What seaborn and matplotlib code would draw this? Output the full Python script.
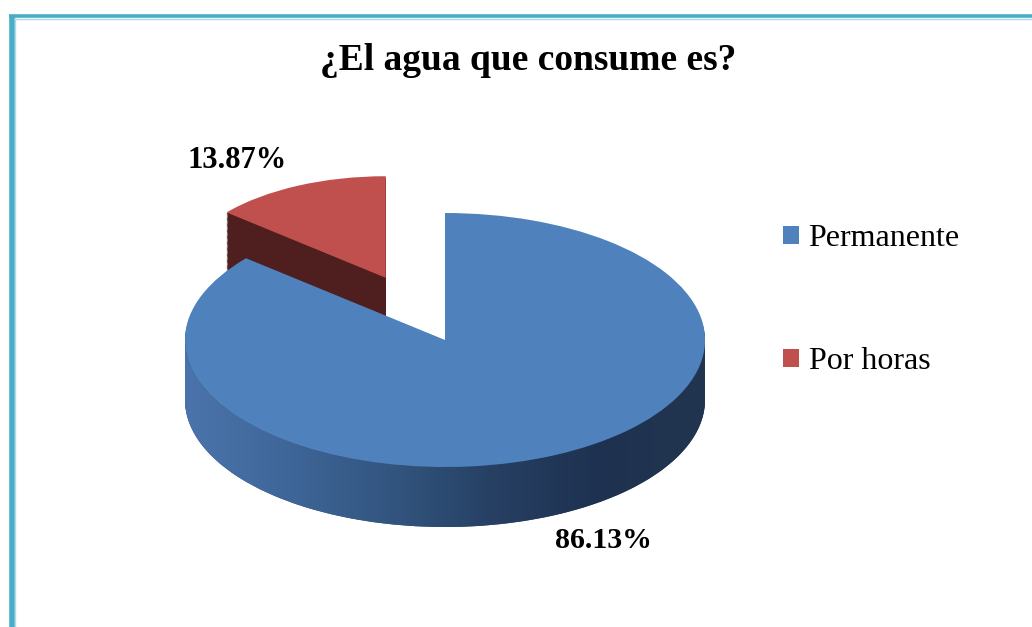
import numpy as np
import matplotlib
matplotlib.use("Agg")
import matplotlib.pyplot as plt
import seaborn as sns
from matplotlib.patches import Patch, PathPatch
from matplotlib.path import Path
from matplotlib.colors import LinearSegmentedColormap
from matplotlib.lines import Line2D

# ---- data ----
title = "¿El agua que consume es?"
categories = ["Permanente", "Por horas"]
values = [86.13, 13.87]
top_colors = ["#4F81BD", "#C0504D"]
side_colors = ["#2E4A72", "#4F1E1E"]

sns.set_theme(style="white")
plt.rcParams["font.family"] = ["Liberation Serif", "DejaVu Serif"]
plt.rcParams["text.color"] = "black"

W, H = 1032, 627
fig = plt.figure(figsize=(W / 100, H / 100), dpi=100)
fig.patch.set_facecolor("white")
ax = fig.add_axes([0, 0, 1, 1])

# pixel geometry of the projected pie
cx, cy, rx, ry = 445, 340, 260, 127
depth = 60 / ry
explode = [0, 0.54]
red_radius = 0.8


def draw_pie(offset, colors, z):
    wedges, _ = ax.pie(values, colors=colors, startangle=90, counterclock=False,
                       explode=explode, center=(0, offset), frame=False,
                       wedgeprops=dict(linewidth=0, antialiased=True))
    wedges[1].set_radius(red_radius)
    for w in wedges:
        w.set_zorder(z)
    return wedges


# side (depth) layers
n_layers = 50
for k in range(n_layers, 0, -1):
    draw_pie(-depth * k / n_layers, side_colors, 1)

# gradient on the front rim of the big slice
theta = np.linspace(np.pi, 2 * np.pi, 200)
upper = np.column_stack([np.cos(theta), np.sin(theta)])
lower = np.column_stack([np.cos(theta[::-1]), np.sin(theta[::-1]) - depth])
verts = np.vstack([upper, lower, upper[:1]])
codes = [Path.MOVETO] + [Path.LINETO] * (len(verts) - 2) + [Path.CLOSEPOLY]
rim = PathPatch(Path(verts, codes), transform=ax.transData, facecolor="none", edgecolor="none")
ax.add_patch(rim)
cmap = LinearSegmentedColormap.from_list(
    "rim", ["#4A74AB", "#3F6699", "#32557F", "#263F62", "#1E3150", "#22354F"])
grad = np.linspace(0, 1, 256).reshape(1, -1)
im = ax.imshow(grad, cmap=cmap, aspect="auto", extent=[-1, 1, -1 - depth, 0.2],
               zorder=2, interpolation="bilinear")
im.set_clip_path(rim)

# top surface
draw_pie(0, top_colors, 3)

# pixel -> data mapping
ax.set_aspect("auto")
ax.set_xlim(-cx / rx, (W - cx) / rx)
ax.set_ylim((cy - H) / ry, cy / ry)
ax.axis("off")


def px(x, y):
    return x / W, 1 - y / H


# percentage labels
fig.text(*px(603, 541), f"{values[0]:.2f}%", ha="center", va="center",
         fontsize=21.5, fontweight="bold", color="black")
fig.text(*px(237, 161), f"{values[1]:.2f}%", ha="center", va="center",
         fontsize=22, fontweight="bold", color="black")

# title
fig.text(*px(528, 61), title, ha="center", va="center", fontsize=27,
         fontweight="bold", color="black")

# legend
handles = [Patch(facecolor=c, edgecolor="none") for c in top_colors]
leg = fig.legend(handles, categories, loc="upper left",
                 bbox_to_anchor=px(767, 208), frameon=False, fontsize=23,
                 handlelength=0.5, handleheight=0.5, handletextpad=0.3,
                 labelspacing=2.95, borderpad=0, labelcolor="black")

# frame border
fig.add_artist(Line2D([9 / W, 1], [1 - 16 / H, 1 - 16 / H], color="#4BACC6", lw=2.6,
                      transform=fig.transFigure, solid_capstyle="butt"))
fig.add_artist(Line2D([11.5 / W, 11.5 / W], [0, 1 - 15 / H], color="#4BACC6", lw=4,
                      transform=fig.transFigure, solid_capstyle="butt"))
fig.add_artist(Line2D([14.5 / W, 14.5 / W], [0, 1 - 18 / H], color="#A8DCEA", lw=1,
                      transform=fig.transFigure, solid_capstyle="butt"))
fig.add_artist(Line2D([14 / W, 1], [1 - 18.5 / H, 1 - 18.5 / H], color="#A8DCEA", lw=1,
                      transform=fig.transFigure, solid_capstyle="butt"))

fig.savefig("out.png", dpi=100, facecolor="white")
